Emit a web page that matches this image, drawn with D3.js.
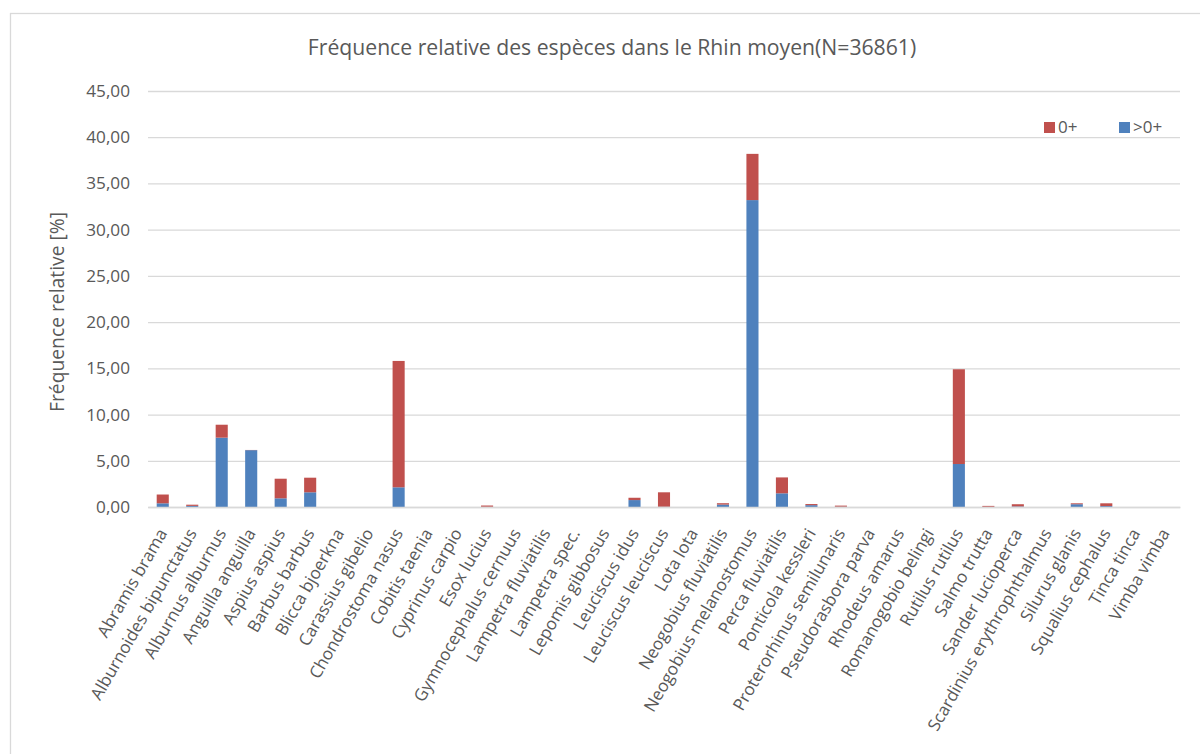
<!DOCTYPE html>
<html>
<head>
<meta charset="utf-8">
<script src="https://cdn.jsdelivr.net/npm/d3@7"></script>
<style>
  html, body { margin: 0; padding: 0; background: #fff; }
  svg { display: block; font-family: "Open Sans", "Noto Sans", sans-serif; }
</style>
</head>
<body>
<svg id="chart" width="1200" height="754"></svg>
<script>
// Species sampled in the middle Rhine
const species = [
  "Abramis brama", "Alburnoides bipunctatus", "Alburnus alburnus", "Anguilla anguilla",
  "Aspius aspius", "Barbus barbus", "Blicca bjoerkna", "Carassius gibelio",
  "Chondrostoma nasus", "Cobitis taenia", "Cyprinus carpio", "Esox lucius",
  "Gymnocephalus cernuus", "Lampetra fluviatilis", "Lampetra spec.", "Lepomis gibbosus",
  "Leuciscus idus", "Leuciscus leuciscus", "Lota lota", "Neogobius fluviatilis",
  "Neogobius melanostomus", "Perca fluviatilis", "Ponticola kessleri", "Proterorhinus semilunaris",
  "Pseudorasbora parva", "Rhodeus amarus", "Romanogobio belingi", "Rutilus rutilus",
  "Salmo trutta", "Sander lucioperca", "Scardinius erythrophthalmus", "Silurus glanis",
  "Squalius cephalus", "Tinca tinca", "Vimba vimba"
];

// Relative frequency [%] of older fish (>0+)
const older = [
  0.40, 0.12, 7.50, 6.15, 0.94, 1.59, 0.00, 0.00,
  2.13, 0.00, 0.00, 0.02, 0.00, 0.00, 0.00, 0.00,
  0.75, 0.03, 0.00, 0.26, 33.20, 1.48, 0.20, 0.03,
  0.00, 0.00, 0.00, 4.65, 0.02, 0.06, 0.00, 0.30,
  0.10, 0.00, 0.00
];

// Relative frequency [%] of young-of-the-year (0+)
const youngOfYear = [
  0.95, 0.13, 1.40, 0.02, 2.12, 1.58, 0.00, 0.00,
  13.67, 0.00, 0.00, 0.14, 0.00, 0.00, 0.00, 0.00,
  0.25, 1.56, 0.00, 0.15, 5.00, 1.72, 0.12, 0.12,
  0.00, 0.00, 0.00, 10.25, 0.10, 0.24, 0.00, 0.10,
  0.30, 0.00, 0.00
];

const yTicks = [0, 5, 10, 15, 20, 25, 30, 35, 40, 45];

const seriesKeys = ["older", "young"];
const seriesLabels = { young: "0+", older: ">0+" };
const colors = { young: "#c0504d", older: "#4f81bd" };

const rows = species.map((s, i) => ({ species: s, older: older[i], young: youngOfYear[i] }));

const svg = d3.select("#chart");
const plotLeft = 148, plotRight = 1180, plotTop = 91, plotBottom = 507;

const x = d3.scaleBand().domain(species).range([plotLeft, plotRight]).paddingInner(0.59).paddingOuter(0.295);
const y = d3.scaleLinear().domain([0, 45]).range([plotBottom, plotTop]);

// chart frame
svg.append("rect")
  .attr("x", 10.5).attr("y", 13.5)
  .attr("width", 1220).attr("height", 780)
  .attr("fill", "#fff").attr("stroke", "#d9d9d9").attr("stroke-width", 1.3);

// title
svg.append("text")
  .attr("x", 612).attr("y", 55)
  .attr("text-anchor", "middle")
  .attr("font-size", 21.2)
  .attr("fill", "#595959")
  .text("Fréquence relative des espèces dans le Rhin moyen(N=36861)");

// gridlines and y axis labels
const fmt = v => d3.format(".2f")(v).replace(".", ",");
const yAxis = d3.axisLeft(y).tickValues(yTicks).tickSize(-(plotRight - plotLeft)).tickFormat(fmt).tickPadding(18);
const gy = svg.append("g").attr("transform", `translate(${plotLeft},0)`).call(yAxis);
gy.select(".domain").remove();
gy.selectAll(".tick line").attr("stroke", "#d9d9d9").attr("stroke-width", 1.3);
gy.selectAll(".tick text")
  .attr("font-size", 17.2)
  .attr("fill", "#595959")
  .attr("font-family", "'Open Sans', sans-serif");

// y axis title
svg.append("text")
  .attr("transform", "translate(64,312) rotate(-90)")
  .attr("text-anchor", "middle")
  .attr("font-size", 19.3)
  .attr("fill", "#595959")
  .text("Fréquence relative [%]");

// stacked bars
const stack = d3.stack().keys(seriesKeys)(rows);
svg.append("g").selectAll("g")
  .data(stack)
  .join("g")
  .attr("fill", d => colors[d.key])
  .selectAll("rect")
  .data(d => d)
  .join("rect")
  .attr("x", d => x(d.data.species))
  .attr("width", x.bandwidth())
  .attr("y", d => y(d[1]))
  .attr("height", d => y(d[0]) - y(d[1]));

// x axis baseline and rotated category labels
const xAxis = d3.axisBottom(x).tickSize(0).tickPadding(0);
const gx = svg.append("g").attr("transform", `translate(0,${plotBottom})`).call(xAxis);
gx.select(".domain").attr("stroke", "#d9d9d9").attr("stroke-width", 1.3);
gx.selectAll(".tick text")
  .attr("font-size", 17)
  .attr("fill", "#595959")
  .attr("font-family", "'Open Sans', sans-serif")
  .attr("text-anchor", "end")
  .attr("y", 0)
  .attr("dy", 0)
  .attr("transform", "translate(5,26) rotate(-60)");

// legend
const legendItems = [
  { key: "young", x: 1044 },
  { key: "older", x: 1119 }
];
const lg = svg.append("g").selectAll("g").data(legendItems).join("g")
  .attr("transform", d => `translate(${d.x},122)`);
lg.append("rect").attr("width", 11).attr("height", 11).attr("fill", d => colors[d.key]);
lg.append("text")
  .attr("x", 14).attr("y", 5.5).attr("dy", "0.35em")
  .attr("font-size", 17).attr("fill", "#595959")
  .text(d => seriesLabels[d.key]);
</script>
</body>
</html>
